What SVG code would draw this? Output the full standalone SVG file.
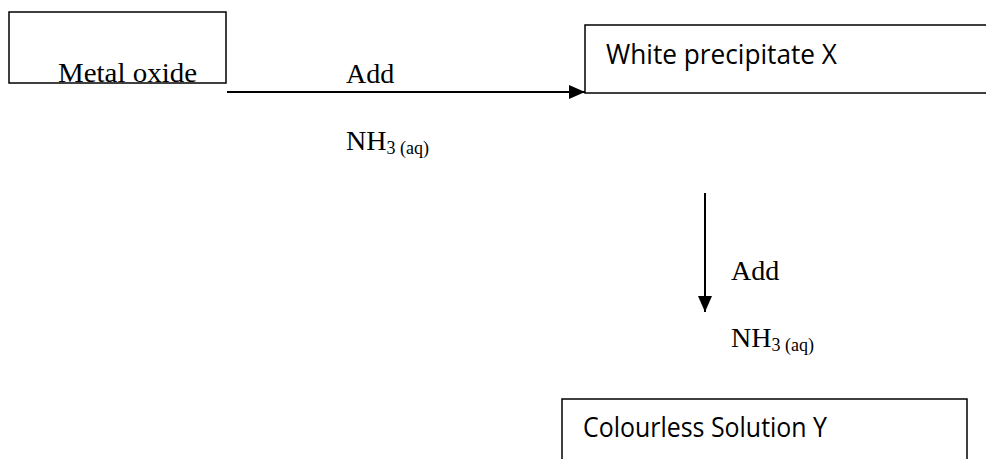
<svg xmlns="http://www.w3.org/2000/svg" width="986" height="459" viewBox="0 0 986 459">
<style>
.box{fill:#fff;stroke:#000;stroke-width:1.5}
.serif{font-family:"Liberation Serif","Times New Roman",serif;font-size:28px;fill:#000}
.sub{font-size:18px}
.sans{font-family:"Open Sans","Noto Sans","Liberation Sans",sans-serif;font-size:28px;fill:#000}
.conn{stroke:#000;stroke-width:2;fill:none}
</style>
<defs>
<marker id="ah" viewBox="0 0 16 14" refX="16" refY="7" markerWidth="16" markerHeight="14" markerUnits="userSpaceOnUse" orient="auto">
<path d="M0,0 L16,7 L0,14 Z" fill="#000"/>
</marker>
</defs>
<g id="metal-oxide">
<rect class="box" x="9" y="12" width="217" height="71"/>
<text class="serif" x="58" y="82" textLength="139" lengthAdjust="spacingAndGlyphs">Metal oxide</text>
</g>
<g id="white-precipitate">
<rect class="box" x="585" y="25" width="410" height="68"/>
<text class="sans" x="606" y="64" textLength="231" lengthAdjust="spacingAndGlyphs">White precipitate X</text>
</g>
<g id="colourless-solution">
<rect class="box" x="562" y="399" width="405" height="80"/>
<text class="sans" x="583" y="437" textLength="244" lengthAdjust="spacingAndGlyphs">Colourless Solution Y</text>
</g>
<g id="connectors">
<line class="conn" x1="227" y1="92" x2="585" y2="92" marker-end="url(#ah)"/>
<line class="conn" x1="705" y1="193" x2="705" y2="312" marker-end="url(#ah)"/>
</g>
<g id="labels">
<text class="serif" x="346" y="83">Add</text>
<text class="serif" x="346" y="150">NH<tspan class="sub" dy="4">3 (aq)</tspan></text>
<text class="serif" x="731" y="280">Add</text>
<text class="serif" x="731" y="347">NH<tspan class="sub" dy="4">3 (aq)</tspan></text>
</g>
</svg>
